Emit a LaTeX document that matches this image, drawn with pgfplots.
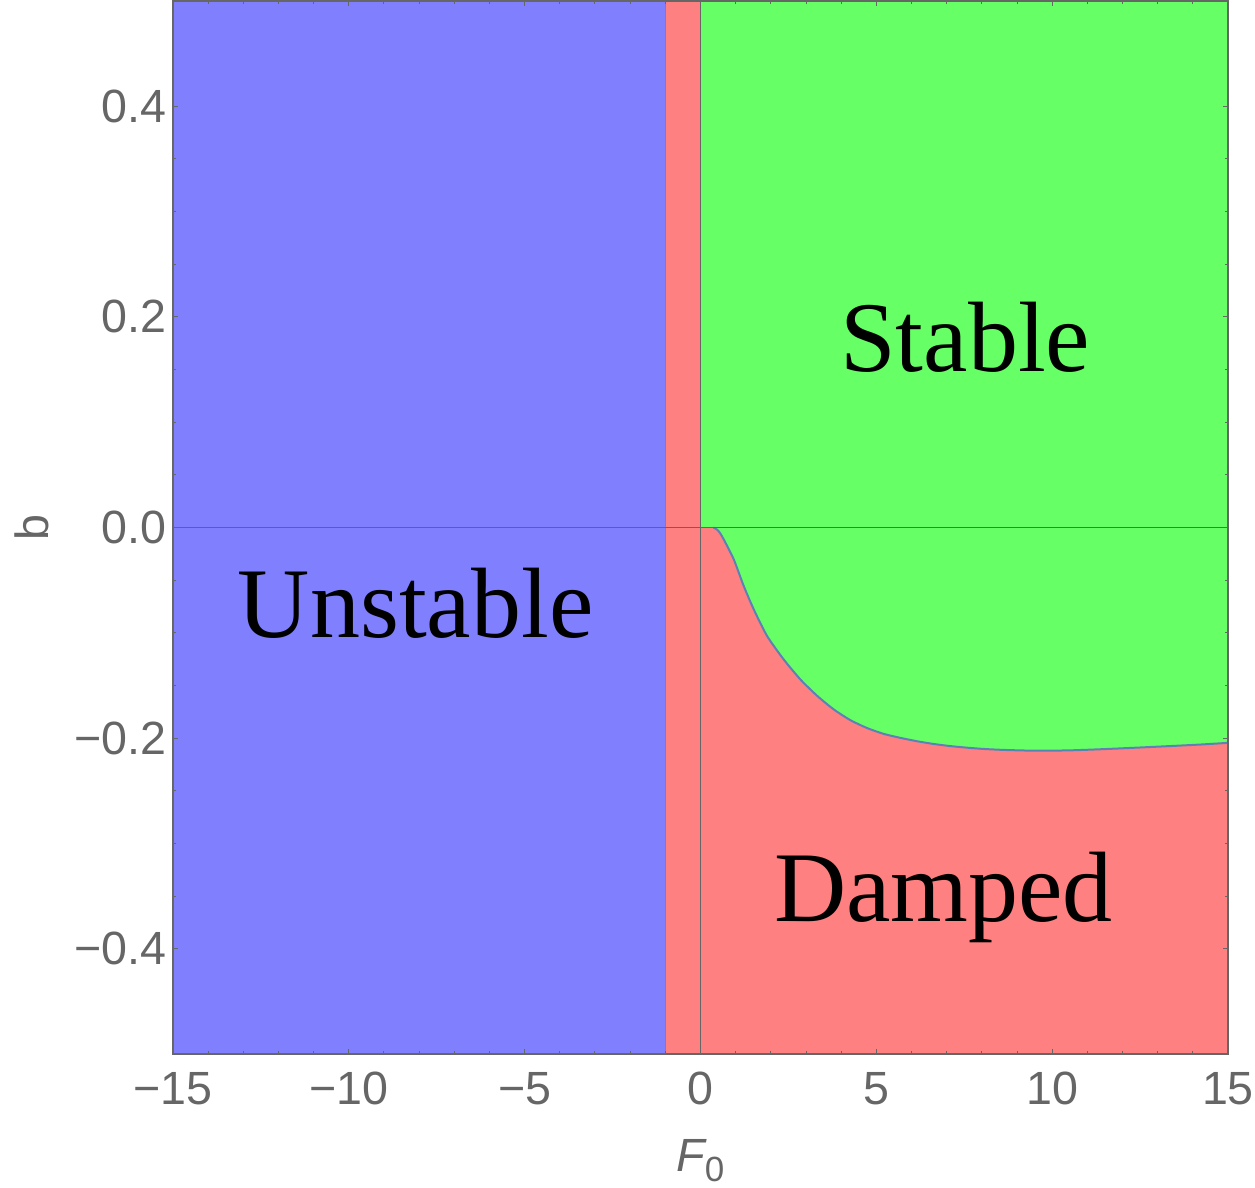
\documentclass[border=0pt]{standalone}
\usepackage{fontspec}
\setmainfont{Liberation Serif}
\newfontfamily\tickfont{Liberation Sans}
\usepackage{pgfplots}
\pgfplotsset{compat=1.18}
\definecolor{regblue}{RGB}{128,128,255}
\definecolor{regred}{RGB}{255,128,128}
\definecolor{reggreen}{RGB}{102,255,102}
\definecolor{axgray}{RGB}{102,102,102}
\definecolor{curvecol}{RGB}{94,129,181}
\definecolor{edgecol}{RGB}{170,100,200}
\begin{document}
\begin{tikzpicture}
\begin{axis}[
  name=ax,
  scale only axis,
  width=527.5pt, height=526.5pt,
  xmin=-15, xmax=15, ymin=-0.5, ymax=0.5,
  axis on top,
  axis line style={axgray, line width=0.6pt},
  every tick/.style={axgray, line width=0.5pt},
  tick align=inside,
  major tick length=2.6pt,
  minor tick length=1.5pt,
  xtick={-15,-10,-5,0,5,10,15},
  xticklabels={−15,−10,−5,0,5,10,15},
  minor x tick num=4,
  ytick={-0.4,-0.2,0,0.2,0.4},
  yticklabels={−0.4,−0.2,0.0,0.2,0.4},
  minor y tick num=3,
  tick label style={font=\tickfont\fontsize{23.3}{28}\selectfont, text=axgray},
  xticklabel style={anchor=north, inner sep=0pt, yshift=-9pt},
  yticklabel style={anchor=east, inner sep=0pt, xshift=-3pt},
  xlabel={{\itshape F}\raisebox{-5pt}{\fontsize{17.5}{20}\selectfont 0}},
  xlabel style={at={(axis description cs:0.5,-0.112)}, anchor=base, inner sep=0pt,
    font=\tickfont\fontsize{23.3}{28}\selectfont, text=axgray},
  ylabel={b},
  ylabel style={at={(axis description cs:-0.1175,0.5)}, rotate=0, anchor=south, inner sep=0pt,
    font=\tickfont\fontsize{23.3}{28}\selectfont, text=axgray},
]
% regions
\addplot[fill=regblue, draw=none] coordinates {(-15,-0.5) (-1,-0.5) (-1,0.5) (-15,0.5)} -- cycle;
\addplot[fill=regred, draw=none] coordinates {(-1,-0.5) (15,-0.5) (15,0.5) (-1,0.5)} -- cycle;
\addplot[fill=reggreen, draw=none] coordinates {
 (0,0.5) (0,0) (0.37,0) (0.47,-0.002) (0.55,-0.005) (0.662,-0.0114) (0.947,-0.0304)
 (1.231,-0.0557) (1.516,-0.0779) (1.896,-0.1032) (2.368,-0.1254) (2.843,-0.1444)
 (3.322,-0.1600) (3.790,-0.1728) (4.264,-0.1830) (4.740,-0.1905) (5.21,-0.1960)
 (5.687,-0.1998) (6.16,-0.2030) (6.634,-0.2056) (7.108,-0.2076) (7.583,-0.2091)
 (8.05,-0.2103) (8.530,-0.2111) (9.0,-0.2116) (9.48,-0.2119) (10.43,-0.2117)
 (11.37,-0.2106) (12.32,-0.2092) (13.27,-0.2077) (14.22,-0.2061) (15,-0.2045)
 (15,0.5)} -- cycle;
% boundaries
\addplot[edgecol, line width=0.5pt] coordinates {(-1,-0.5) (-1,0.5)};
\addplot[curvecol, line width=1pt, smooth, tension=0.4] coordinates {
 (0.37,0) (0.47,-0.002) (0.55,-0.005) (0.662,-0.0114) (0.947,-0.0304)
 (1.231,-0.0557) (1.516,-0.0779) (1.896,-0.1032) (2.368,-0.1254) (2.843,-0.1444)
 (3.322,-0.1600) (3.790,-0.1728) (4.264,-0.1830) (4.740,-0.1905) (5.21,-0.1960)
 (5.687,-0.1998) (6.16,-0.2030) (6.634,-0.2056) (7.108,-0.2076) (7.583,-0.2091)
 (8.05,-0.2103) (8.530,-0.2111) (9.0,-0.2116) (9.48,-0.2119) (10.43,-0.2117)
 (11.37,-0.2106) (12.32,-0.2092) (13.27,-0.2077) (14.22,-0.2061) (15,-0.2045)};
% axes lines
\addplot[axgray, line width=0.7pt] coordinates {(0,-0.5) (0,0.5)};
\addplot[axgray, line width=0.7pt] coordinates {(-15,0) (15,0)};
% region labels
\node[anchor=base, font=\fontsize{50}{56}\selectfont] at (axis cs:7.53,0.1477) {Stable};
\node[anchor=base, font=\fontsize{50}{56}\selectfont] at (axis cs:-8.1,-0.104) {Unstable};
\node[anchor=base, font=\fontsize{50}{56}\selectfont] at (axis cs:6.91,-0.3737) {Damped};
\end{axis}
\pgfresetboundingbox
\path[use as bounding box] ([shift={(-86.5pt,-66.5pt)}]ax.south west) rectangle ([shift={(13.5pt,0.5pt)}]ax.north east);
\end{tikzpicture}
\end{document}
